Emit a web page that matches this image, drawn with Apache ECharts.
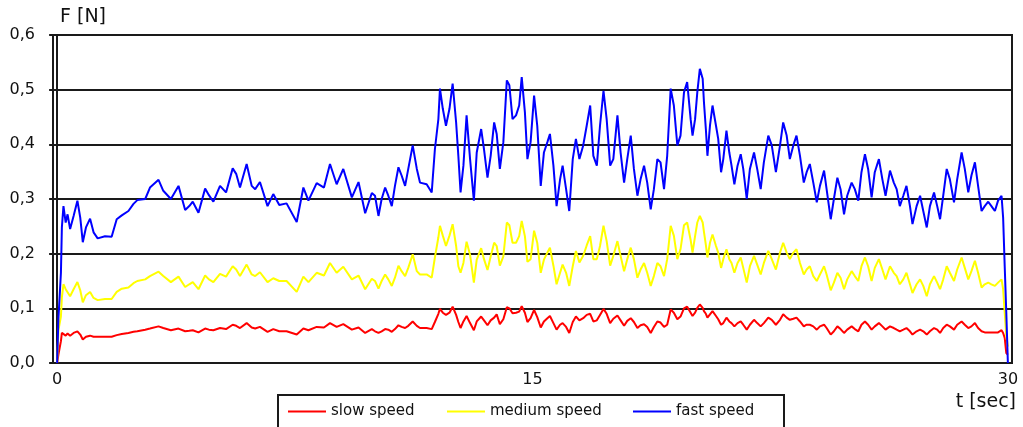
<!DOCTYPE html>
<html>
<head>
<meta charset="utf-8">
<script src="https://cdn.jsdelivr.net/npm/echarts@6/dist/echarts.min.js"></script>
<style>
  html, body { margin: 0; padding: 0; background: #fff; }
  #chart { width: 1023px; height: 427px; }
</style>
</head>
<body>
<div id="chart"></div>
<script>
// Sample times in seconds, shared by all three runs
const tSec = [
  0, 0.04, 0.12, 0.15, 0.20, 0.27, 0.33, 0.41, 0.52, 0.64, 0.73, 0.81, 0.91, 1.04, 1.15, 1.28, 1.51, 1.72, 1.88, 2.04,
  2.25, 2.41, 2.53, 2.78, 2.93, 3.20, 3.35, 3.59, 3.83, 4.04, 4.17, 4.28, 4.46, 4.67, 4.79, 4.93, 5.14, 5.33, 5.54, 5.65,
  5.77, 5.98, 6.14, 6.25, 6.40, 6.64, 6.82, 7.01, 7.24, 7.56, 7.77, 7.93, 8.19, 8.42, 8.61, 8.82, 9.03, 9.30, 9.51, 9.72,
  9.93,
  10.03, 10.14, 10.24, 10.35, 10.45, 10.56, 10.66, 10.77, 10.87, 10.98, 11.08, 11.22, 11.35, 11.45, 11.66, 11.82, 11.92, 12.03, 12.08, 12.17,
  12.27, 12.38, 12.48, 12.59, 12.66, 12.73, 12.82, 12.92, 13.03, 13.15, 13.24, 13.38, 13.47, 13.58, 13.68, 13.79, 13.87, 13.97, 14.08, 14.19,
  14.27, 14.37, 14.48, 14.58, 14.66, 14.76, 14.84, 14.94, 15.05, 15.15, 15.26, 15.36, 15.47, 15.55, 15.66, 15.76, 15.87, 15.95, 16.06, 16.16,
  16.27, 16.37, 16.48, 16.60, 16.71, 16.82, 16.92, 17.03, 17.13, 17.24, 17.34, 17.45, 17.55, 17.68, 17.78, 17.89, 17.99, 18.10, 18.20, 18.31,
  18.41, 18.52, 18.62, 18.73, 18.83, 18.94, 19.04, 19.15, 19.25, 19.36, 19.46, 19.57, 19.67, 19.78, 19.88, 19.99,
  20.05, 20.13, 20.20, 20.28, 20.37, 20.41, 20.47, 20.52, 20.60, 20.68, 20.79, 20.86, 20.95, 21.02, 21.12, 21.21, 21.28, 21.37, 21.47, 21.57,
  21.65, 21.76, 21.86, 21.99, 22.09, 22.20, 22.30, 22.44, 22.55, 22.68, 22.81, 22.91, 23.02, 23.12, 23.23, 23.33, 23.44, 23.56, 23.65, 23.75,
  23.86, 23.97, 24.07, 24.20, 24.28, 24.41, 24.51, 24.62, 24.72, 24.83, 24.93, 25.07, 25.17, 25.28, 25.38, 25.49, 25.59, 25.70, 25.80, 25.93,
  26.04, 26.14, 26.28, 26.40, 26.49, 26.59, 26.70, 26.80, 26.91, 26.99, 27.12, 27.23, 27.33, 27.44, 27.54, 27.67, 27.77, 27.86, 27.96, 28.07,
  28.17, 28.30, 28.40, 28.54, 28.64, 28.75, 28.85, 28.96, 29.06, 29.17, 29.27, 29.38, 29.48, 29.59, 29.69, 29.80, 29.85, 29.90, 29.95, 30.00
];

// Force in newtons, slow run
const slowSpeed = [
  0, 0.015, 0.040, 0.055, 0.058, 0.050, 0.054, 0.050, 0.055, 0.058, 0.052, 0.043, 0.048, 0.050, 0.048, 0.048, 0.048, 0.048, 0.051, 0.053,
  0.055, 0.057, 0.058, 0.061, 0.063, 0.067, 0.064, 0.060, 0.063, 0.058, 0.059, 0.060, 0.056, 0.063, 0.061, 0.060, 0.064, 0.062, 0.070, 0.068,
  0.064, 0.073, 0.065, 0.063, 0.066, 0.057, 0.062, 0.058, 0.058, 0.052, 0.063, 0.060, 0.066, 0.065, 0.073, 0.066, 0.071, 0.061, 0.065, 0.055,
  0.062,
  0.058, 0.055, 0.058, 0.062, 0.061, 0.057, 0.062, 0.069, 0.066, 0.064, 0.068, 0.076, 0.068, 0.064, 0.064, 0.062, 0.075, 0.090, 0.099, 0.092,
  0.088, 0.092, 0.103, 0.088, 0.075, 0.064, 0.076, 0.086, 0.073, 0.060, 0.076, 0.085, 0.078, 0.069, 0.078, 0.083, 0.089, 0.071, 0.080, 0.102,
  0.100, 0.091, 0.092, 0.094, 0.104, 0.092, 0.075, 0.082, 0.097, 0.084, 0.065, 0.076, 0.082, 0.086, 0.073, 0.061, 0.070, 0.073, 0.066, 0.055,
  0.075, 0.085, 0.078, 0.082, 0.088, 0.090, 0.076, 0.078, 0.088, 0.099, 0.090, 0.073, 0.081, 0.087, 0.078, 0.068, 0.077, 0.082, 0.075, 0.064,
  0.069, 0.071, 0.066, 0.055, 0.066, 0.076, 0.074, 0.066, 0.070, 0.098, 0.092, 0.080, 0.085, 0.100, 0.103, 0.092,
  0.086, 0.092, 0.101, 0.107, 0.101, 0.095, 0.090, 0.083, 0.089, 0.095, 0.086, 0.080, 0.070, 0.073, 0.083, 0.076, 0.073, 0.067, 0.073, 0.076,
  0.070, 0.061, 0.070, 0.079, 0.073, 0.067, 0.073, 0.083, 0.079, 0.070, 0.079, 0.089, 0.083, 0.079, 0.081, 0.083, 0.076, 0.067, 0.070, 0.070,
  0.067, 0.061, 0.067, 0.070, 0.064, 0.052, 0.058, 0.067, 0.062, 0.055, 0.061, 0.067, 0.062, 0.058, 0.070, 0.076, 0.070, 0.061, 0.067, 0.073,
  0.067, 0.061, 0.067, 0.064, 0.061, 0.058, 0.061, 0.064, 0.058, 0.052, 0.058, 0.061, 0.058, 0.052, 0.058, 0.064, 0.061, 0.055, 0.064, 0.070,
  0.067, 0.061, 0.070, 0.076, 0.070, 0.064, 0.067, 0.073, 0.064, 0.058, 0.056, 0.056, 0.056, 0.056, 0.056, 0.060, 0.055, 0.046, 0.018, 0.015
];

// Force in newtons, medium run
const mediumSpeed = [
  0, 0.060, 0.085, 0.120, 0.144, 0.135, 0.138, 0.122, 0.135, 0.148, 0.133, 0.111, 0.124, 0.130, 0.119, 0.115, 0.117, 0.117, 0.130, 0.136,
  0.138, 0.146, 0.150, 0.153, 0.159, 0.167, 0.159, 0.148, 0.158, 0.139, 0.144, 0.148, 0.135, 0.160, 0.153, 0.148, 0.163, 0.158, 0.177, 0.171,
  0.159, 0.180, 0.162, 0.159, 0.166, 0.148, 0.155, 0.150, 0.150, 0.130, 0.158, 0.148, 0.165, 0.160, 0.183, 0.165, 0.176, 0.153, 0.160, 0.135,
  0.154,
  0.150, 0.136, 0.150, 0.162, 0.153, 0.141, 0.156, 0.178, 0.168, 0.159, 0.174, 0.199, 0.168, 0.162, 0.162, 0.156, 0.193, 0.230, 0.251, 0.233,
  0.214, 0.233, 0.254, 0.214, 0.177, 0.165, 0.183, 0.222, 0.198, 0.147, 0.189, 0.210, 0.190, 0.170, 0.195, 0.220, 0.214, 0.178, 0.195, 0.257,
  0.252, 0.220, 0.220, 0.232, 0.260, 0.232, 0.185, 0.190, 0.242, 0.220, 0.165, 0.189, 0.202, 0.211, 0.178, 0.144, 0.165, 0.180, 0.165, 0.141,
  0.177, 0.205, 0.184, 0.196, 0.215, 0.232, 0.190, 0.190, 0.214, 0.251, 0.223, 0.178, 0.196, 0.223, 0.196, 0.168, 0.190, 0.211, 0.190, 0.156,
  0.171, 0.183, 0.165, 0.141, 0.159, 0.183, 0.177, 0.159, 0.190, 0.251, 0.233, 0.190, 0.208, 0.252, 0.257, 0.225,
  0.202, 0.232, 0.257, 0.269, 0.257, 0.240, 0.216, 0.193, 0.220, 0.235, 0.214, 0.202, 0.174, 0.190, 0.208, 0.190, 0.183, 0.165, 0.183, 0.193,
  0.174, 0.147, 0.177, 0.196, 0.180, 0.162, 0.183, 0.205, 0.190, 0.171, 0.202, 0.220, 0.202, 0.190, 0.202, 0.208, 0.183, 0.162, 0.171, 0.177,
  0.159, 0.150, 0.162, 0.177, 0.162, 0.133, 0.147, 0.165, 0.156, 0.135, 0.153, 0.168, 0.159, 0.150, 0.177, 0.193, 0.177, 0.150, 0.174, 0.190,
  0.171, 0.153, 0.177, 0.165, 0.159, 0.144, 0.153, 0.165, 0.144, 0.128, 0.144, 0.153, 0.141, 0.122, 0.144, 0.159, 0.147, 0.135, 0.153, 0.177,
  0.165, 0.150, 0.171, 0.193, 0.174, 0.153, 0.168, 0.187, 0.165, 0.138, 0.144, 0.147, 0.144, 0.141, 0.147, 0.153, 0.135, 0.092, 0.050, 0.030
];

// Force in newtons, fast run
const fastSpeed = [
  0, 0.080, 0.165, 0.248, 0.287, 0.257, 0.272, 0.245, 0.269, 0.297, 0.266, 0.221, 0.248, 0.264, 0.239, 0.228, 0.232, 0.231, 0.263, 0.270,
  0.278, 0.291, 0.298, 0.300, 0.321, 0.335, 0.315, 0.300, 0.324, 0.280, 0.287, 0.295, 0.275, 0.319, 0.307, 0.295, 0.324, 0.312, 0.356, 0.346,
  0.321, 0.364, 0.324, 0.318, 0.331, 0.287, 0.309, 0.289, 0.292, 0.258, 0.321, 0.297, 0.329, 0.321, 0.364, 0.327, 0.355, 0.303, 0.331, 0.274,
  0.311,
  0.306, 0.269, 0.300, 0.321, 0.306, 0.287, 0.324, 0.358, 0.343, 0.324, 0.355, 0.398, 0.355, 0.330, 0.327, 0.312, 0.391, 0.446, 0.502, 0.465,
  0.434, 0.465, 0.511, 0.440, 0.379, 0.312, 0.361, 0.453, 0.373, 0.297, 0.385, 0.428, 0.391, 0.339, 0.379, 0.440, 0.419, 0.355, 0.404, 0.517,
  0.508, 0.446, 0.453, 0.471, 0.523, 0.459, 0.373, 0.404, 0.489, 0.434, 0.324, 0.385, 0.404, 0.419, 0.361, 0.287, 0.336, 0.361, 0.318, 0.278,
  0.373, 0.410, 0.373, 0.398, 0.434, 0.471, 0.379, 0.361, 0.434, 0.498, 0.446, 0.361, 0.373, 0.453, 0.385, 0.330, 0.373, 0.416, 0.355, 0.306,
  0.336, 0.361, 0.330, 0.281, 0.318, 0.373, 0.367, 0.318, 0.379, 0.502, 0.471, 0.398, 0.416, 0.495, 0.514, 0.446,
  0.416, 0.446, 0.495, 0.538, 0.520, 0.477, 0.428, 0.379, 0.434, 0.471, 0.434, 0.410, 0.349, 0.373, 0.425, 0.385, 0.361, 0.327, 0.361, 0.382,
  0.355, 0.300, 0.355, 0.385, 0.355, 0.318, 0.367, 0.416, 0.398, 0.349, 0.398, 0.440, 0.416, 0.373, 0.398, 0.416, 0.379, 0.330, 0.349, 0.364,
  0.330, 0.294, 0.324, 0.352, 0.318, 0.263, 0.300, 0.339, 0.318, 0.272, 0.306, 0.330, 0.318, 0.297, 0.349, 0.382, 0.355, 0.303, 0.349, 0.373,
  0.336, 0.306, 0.352, 0.330, 0.318, 0.287, 0.306, 0.324, 0.287, 0.254, 0.287, 0.306, 0.278, 0.248, 0.287, 0.312, 0.287, 0.263, 0.306, 0.355,
  0.336, 0.294, 0.336, 0.385, 0.355, 0.312, 0.343, 0.367, 0.324, 0.278, 0.287, 0.295, 0.287, 0.278, 0.297, 0.306, 0.266, 0.177, 0.092, 0.000
];

const xTickLabels = [0, 15, 30];
const seriesNames = ['slow speed', 'medium speed', 'fast speed'];
const seriesColors = ['#ff0000', '#ffff00', '#0000ff'];
const seriesValues = [slowSpeed, mediumSpeed, fastSpeed];

const FONT = 'DejaVu Sans';
const chart = echarts.init(document.getElementById('chart'), null, { renderer: 'canvas' });

const pairs = vals => tSec.map((t, i) => [t, vals[i]]);

// one legend per entry so each sits at its own spot in the framed box
const legendLefts = [288, 447, 633];
const legends = seriesNames.map((name, i) => ({
  data: [name],
  left: legendLefts[i],
  top: 404,
  padding: 0,
  icon: 'rect',
  itemWidth: 38,
  itemHeight: 2,
  textStyle: { fontFamily: FONT, fontSize: 15, color: '#111' }
}));

chart.setOption({
  animation: false,
  backgroundColor: '#ffffff',
  grid: {
    left: 53, right: 11, top: 35, bottom: 64,
    show: true, borderColor: '#1a1a1a', borderWidth: 2, backgroundColor: 'transparent'
  },
  legend: legends,
  xAxis: {
    type: 'value',
    min: -0.13,
    max: 30.13,
    axisLine: { show: true, onZero: false, lineStyle: { color: '#1a1a1a', width: 2 } },
    axisTick: { show: false },
    splitLine: { show: false },
    axisLabel: {
      customValues: xTickLabels,
      margin: 9,
      fontFamily: FONT, fontSize: 16, color: '#111'
    }
  },
  yAxis: {
    type: 'value',
    min: 0,
    max: 0.6,
    interval: 0.1,
    axisLine: { show: true, lineStyle: { color: '#1a1a1a', width: 2 } },
    axisTick: { show: true, length: 8, lineStyle: { color: '#1a1a1a', width: 2 } },
    splitLine: { show: true, lineStyle: { color: '#1a1a1a', width: 2 } },
    axisLabel: {
      margin: 18,
      fontFamily: FONT, fontSize: 16, color: '#111',
      formatter: v => v.toFixed(1).replace('.', ',')
    }
  },
  graphic: [
    {
      type: 'rect', z: 0,
      shape: { x: 278, y: 395, width: 506, height: 40 },
      style: { fill: '#fff', stroke: '#1a1a1a', lineWidth: 2 }
    },
    {
      type: 'text', left: 60, top: 8,
      style: { text: 'F [N]', font: '19px "DejaVu Sans"', fill: '#111' }
    },
    {
      type: 'text', right: 7, top: 393,
      style: { text: 't [sec]', font: '19px "DejaVu Sans"', fill: '#111' }
    }
  ],
  series: seriesValues.map((vals, i) => ({
    name: seriesNames[i],
    type: 'line',
    data: pairs(vals),
    showSymbol: false,
    color: seriesColors[i],
    lineStyle: { color: seriesColors[i], width: 2 },
    z: 3 + i
  }))
});
</script>
</body>
</html>
